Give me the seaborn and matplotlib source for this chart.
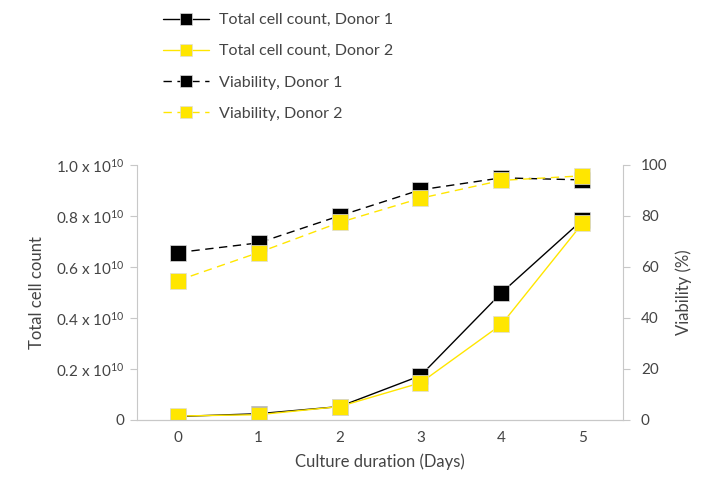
import numpy as np
import pandas as pd
import matplotlib
matplotlib.use('Agg')
import matplotlib.pyplot as plt
import seaborn as sns
from matplotlib.ticker import FuncFormatter

days = [0, 1, 2, 3, 4, 5]
count_d1 = [0.013, 0.024, 0.052, 0.173, 0.498, 0.784]  # x 1e10
count_d2 = [0.015, 0.020, 0.052, 0.145, 0.374, 0.770]
viab_d1 = [65.6, 69.4, 80.0, 90.2, 94.9, 94.1]
viab_d2 = [54.6, 65.6, 77.4, 86.9, 93.9, 95.7]

BLACK = '#000000'
YELLOW = '#FFE600'
GREY = '#444444'
SPINE = '#c8c8c8'

sns.set_style('white')
plt.rcParams['font.family'] = ['Lato', 'DejaVu Sans']
plt.rcParams['mathtext.default'] = 'regular'
plt.rcParams['text.color'] = GREY
plt.rcParams['axes.labelcolor'] = GREY
plt.rcParams['xtick.color'] = GREY
plt.rcParams['ytick.color'] = GREY

fig = plt.figure(figsize=(7.07, 4.82), dpi=100)
ax = fig.add_axes([0.194, 0.129, 0.687, 0.529])
ax2 = ax.twinx()

mk = dict(marker='s', markersize=12, markeredgecolor='#dddddd', markeredgewidth=0.5)

sns.lineplot(x=days, y=count_d1, ax=ax, color=BLACK, linewidth=1, label='Total cell count, Donor 1', **mk)
sns.lineplot(x=days, y=count_d2, ax=ax, color=YELLOW, linewidth=1, label='Total cell count, Donor 2', **mk)
sns.lineplot(x=days, y=viab_d1, ax=ax2, color=BLACK, linewidth=1, linestyle=(0, (6, 4)), label='Viability, Donor 1', **mk)
sns.lineplot(x=days, y=viab_d2, ax=ax2, color=YELLOW, linewidth=1, linestyle=(0, (6, 4)), label='Viability, Donor 2', **mk)

h1, l1 = ax.get_legend_handles_labels()
h2, l2 = ax2.get_legend_handles_labels()
ax.get_legend().remove()
ax2.get_legend().remove()

ax.set_xlim(-0.5, 5.5)
ax.set_ylim(0, 1.0)
ax2.set_ylim(0, 100)
ax.set_xticks(days)
ax.set_yticks([0, 0.2, 0.4, 0.6, 0.8, 1.0])
ax2.set_yticks([0, 20, 40, 60, 80, 100])

def fmt(v, pos):
    if abs(v) < 1e-9:
        return '0'
    return '%.1f x 10$^{10}$' % v

ax.yaxis.set_major_formatter(FuncFormatter(fmt))

for a in (ax, ax2):
    for s in a.spines.values():
        s.set_visible(False)
    a.spines['bottom'].set_visible(True)
    a.spines['bottom'].set_color(SPINE)
ax.spines['left'].set_visible(True)
ax.spines['left'].set_color(SPINE)
ax2.spines['right'].set_visible(True)
ax2.spines['right'].set_color(SPINE)

ax.tick_params(axis='y', length=5, color=SPINE, labelsize=11, pad=4)
ax2.tick_params(axis='y', length=5, color=SPINE, labelsize=11, pad=8)
ax.tick_params(axis='x', length=0, labelsize=11, pad=8)

ax.set_xlabel('Culture duration (Days)', fontsize=12, labelpad=6)
ax.set_ylabel('Total cell count', fontsize=12, labelpad=8)
ax2.set_ylabel('Viability (%)', fontsize=12, labelpad=6)

fig.legend(h1 + h2, l1 + l2, loc='upper left', bbox_to_anchor=(0.21, 1.003),
           frameon=False, fontsize=11.5, handlelength=2.9, labelspacing=1.07,
           handletextpad=0.6, markerscale=0.75, labelcolor=GREY)

fig.savefig('out.png', dpi=100)
